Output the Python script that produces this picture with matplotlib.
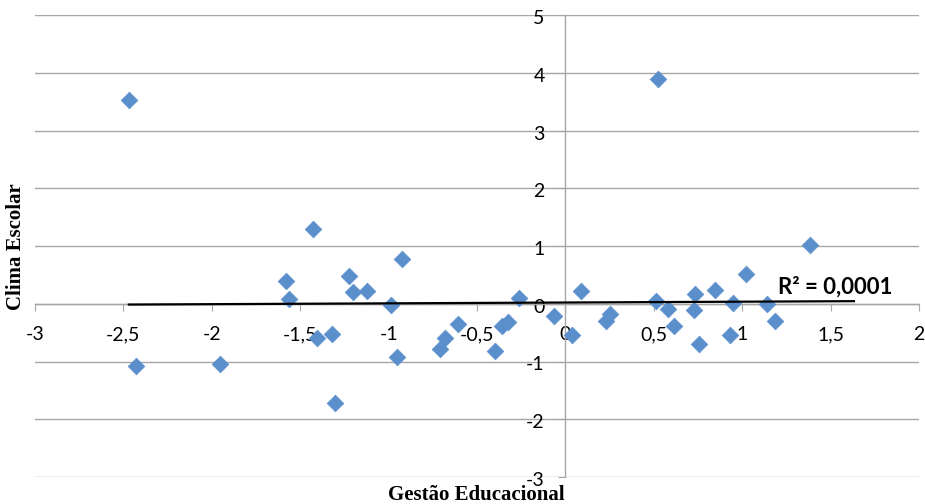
import numpy as np
import matplotlib
matplotlib.use("Agg")
import matplotlib.pyplot as plt
import matplotlib.transforms as mtransforms

gestao = [-2.469, -2.430, -1.955, -1.578, -1.563, -1.428, -1.406, -1.320, -1.305,
          -1.226, -1.201, -1.120, -0.984, -0.952, -0.924, -0.711, -0.683, -0.607,
          -0.400, -0.356, -0.325, -0.264, -0.066, 0.040, 0.090, 0.228, 0.251,
          0.511, 0.524, 0.580, 0.613, 0.726, 0.731, 0.756, 0.845, 0.929, 0.948,
          1.024, 1.143, 1.188, 1.382]
clima = [3.527, -1.083, -1.049, 0.395, 0.078, 1.303, -0.593, -0.517, -1.719,
         0.482, 0.205, 0.222, -0.026, -0.922, 0.783, -0.777, -0.593, -0.355,
         -0.818, -0.390, -0.315, 0.101, -0.217, -0.546, 0.217, -0.303, -0.170,
         0.043, 3.896, -0.095, -0.384, -0.113, 0.177, -0.690, 0.246, -0.546, 0.014,
         0.511, 0.003, -0.303, 1.014]
x_ticks = [-3, -2.5, -2, -1.5, -1, -0.5, 0, 0.5, 1, 1.5, 2]
y_ticks = [-3, -2, -1, 0, 1, 2, 3, 4, 5]
r2_label = "R² = 0,0001"
x_title = "Gestão Educacional"
y_title = "Clima Escolar"
forecast_forward = 0.25


def fmt(v):
    return ("%g" % v).replace(".", ",")


fig = plt.figure(figsize=(9.25, 5.04), dpi=100)
ax = fig.add_axes([35 / 925, 1 - 477 / 504, (919 - 35) / 925, (477 - 15) / 504])

ax.set_xlim(-3, 2)
ax.set_ylim(-3, 5)
ax.set_xticks(x_ticks)
ax.set_yticks(y_ticks)
ax.set_xticklabels([fmt(v) for v in x_ticks])
ax.set_yticklabels([fmt(v) for v in y_ticks])

grid_c = "#A6A6A6"
ax.grid(axis="y", color=grid_c, linewidth=1.0, zorder=0)
ax.set_axisbelow(True)

for s in ["top", "right"]:
    ax.spines[s].set_visible(False)
ax.spines["left"].set_position(("data", 0))
ax.spines["bottom"].set_position(("data", 0))
ax.spines["left"].set_color(grid_c)
ax.spines["bottom"].set_color(grid_c)
ax.spines["left"].set_linewidth(1.0)
ax.spines["bottom"].set_linewidth(1.0)

ax.tick_params(axis="x", direction="out", length=5, color=grid_c, pad=11,
               labelsize=14, labelcolor="black")
ax.tick_params(axis="y", direction="out", length=5, color=grid_c, pad=10,
               labelsize=14, labelcolor="black")
yoff = mtransforms.ScaledTranslation(0, -2 / 100, fig.dpi_scale_trans)
for lab in ax.get_xticklabels() + ax.get_yticklabels():
    lab.set_fontfamily("Lato")
for lab in ax.get_yticklabels():
    lab.set_transform(lab.get_transform() + yoff)

ax.scatter(gestao, clima, marker="D", s=72, color="#5B8FCC", edgecolors="#5B8FCC",
           linewidths=0.5, zorder=3, clip_on=False)

# linear trendline
xa = np.array(gestao)
ya = np.array(clima)
m, b = np.polyfit(xa, ya, 1)
xl = np.array([xa.min(), xa.max() + forecast_forward])
ax.plot(xl, m * xl + b, color="black", linewidth=1.6, zorder=4)

ax.text(778, 504 - 287, r2_label, transform=None, fontsize=16, fontweight="bold",
        family="Lato", va="center", ha="left")

fig.text(476 / 925, 1 - 495 / 504, x_title, ha="center", va="center",
         family="Liberation Serif", fontweight="bold", fontsize=15)
fig.text(16 / 925, 1 - 247 / 504, y_title, ha="center", va="center", rotation=90,
         family="Liberation Serif", fontweight="bold", fontsize=15)

fig.savefig("out.png", dpi=100)
